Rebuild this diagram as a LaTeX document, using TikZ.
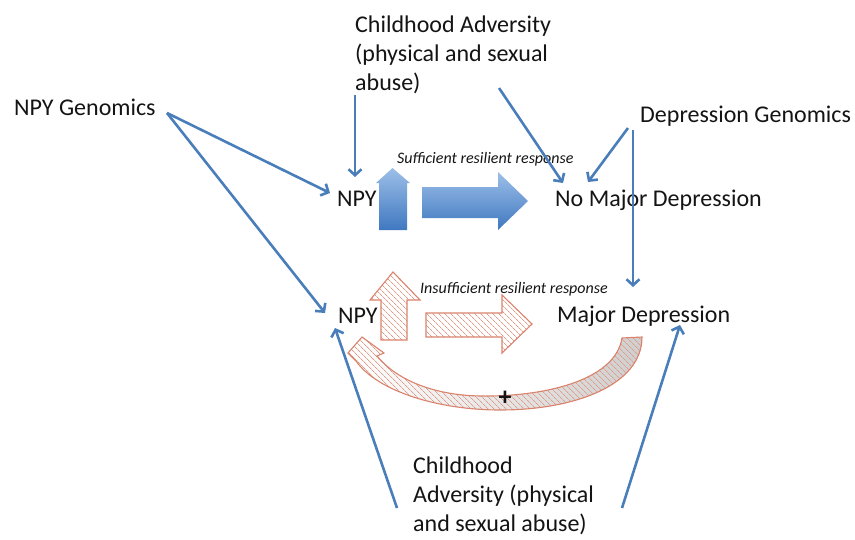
\documentclass[tikz,border=0pt]{standalone}
\usepackage{fontspec}
\setmainfont{Carlito}
\usetikzlibrary{arrows.meta,patterns.meta}
\definecolor{lblue}{HTML}{4A7EBB}
\definecolor{bluetop}{HTML}{9DBFE8}
\definecolor{bluebot}{HTML}{3F78C0}
\definecolor{pinkline}{HTML}{D9826C}
\definecolor{txt}{HTML}{141414}
\begin{document}
\begin{tikzpicture}[x=1pt,y=-1pt,
  big/.style={font=\fontsize{24}{29}\selectfont, inner sep=0pt, anchor=base west, text=txt, align=left},
  small/.style={font=\fontsize{16}{19}\selectfont\itshape, inner sep=0pt, anchor=base west, text=txt},
  conn/.style={draw=lblue, line width=2.6pt, -{Straight Barb[length=6pt,width=13pt]}},
  bluearrow/.style={top color=bluetop, bottom color=bluebot, draw=none},
  hatch/.style={pattern={Lines[angle=-45,distance=4pt,line width=0.7pt]}, pattern color=pinkline!80},
  pinkarrow/.style={hatch, draw=pinkline, line width=1.1pt}]
\useasboundingbox (0,0) rectangle (855,539);

% texts
\node[big] (npygen) at (14,115) {NPY Genomics};
\node[big] (catop) at (355,90) {Childhood Adversity\\(physical and sexual\\abuse)};
\node[big] (npy1) at (337,206) {NPY};
\node[big] (nomd) at (555,206) {No Major Depression};
\node[big] (depgen) at (640,122) {Depression Genomics};
\node[small] (suff) at (397,163) {Sufficient resilient response};
\node[big] (npy2) at (338,323) {NPY};
\node[big] (md) at (557,322) {Major Depression};
\node[small] (insuff) at (420,293) {Insufficient resilient response};
\node[big] (cabot) at (413,531) {Childhood\\Adversity (physical\\and sexual abuse)};

% blue block arrows
\path[bluearrow] (379,230) -- (407,230) -- (407,183) -- (410,183) -- (392.5,168) -- (376,183) -- (379,183) -- cycle;
\path[bluearrow] (422,187) -- (498,187) -- (498,172) -- (528,201) -- (498,230) -- (498,218) -- (422,218) -- cycle;

% pink hatched arrows
\draw[pinkarrow] (381,340) -- (407,340) -- (407,300) -- (420,300) -- (393,272) -- (370,300) -- (381,300) -- cycle;
\draw[pinkarrow] (426,313) -- (502,313) -- (502,295) -- (532,324) -- (502,353) -- (502,337) -- (426,337) -- cycle;

% curved feedback arrow
\path[left color=white, middle color=white, right color=gray!38,
      postaction={hatch}, postaction={draw=pinkline, line width=1.1pt}]
  (622,338) .. controls (615,382) and (540,397) .. (480,396)
  .. controls (430,395) and (395,378) .. (377,356)
  -- (384,353) -- (362,337) -- (348,353) -- (356,361)
  .. controls (378,392) and (440,410) .. (500,410)
  .. controls (575,410) and (642,385) .. (642,337) -- cycle;
\node[font=\fontsize{26}{26}\selectfont\bfseries, text=txt, inner sep=0pt] (plus) at (505,398) {+};

% connector end points
\coordinate (npygen-e) at (167,113);
\coordinate (npy1-in) at (330,193);
\coordinate (npy2-in) at (325,313);
\coordinate (catop-s) at (355,95);
\coordinate (npy1-top) at (355,177);
\coordinate (catop-se) at (499,88);
\coordinate (nomd-in1) at (563,183);
\coordinate (depgen-sw) at (628,128);
\coordinate (nomd-in2) at (588,182);
\coordinate (depgen-s) at (633,130);
\coordinate (md-top) at (633,287);
\coordinate (cabot-w) at (397,508);
\coordinate (npy2-bot) at (335,328);
\coordinate (cabot-e) at (622,508);
\coordinate (md-bot) at (680,325);

% connectors
\draw[conn] (npygen-e) -- (npy1-in);
\draw[conn] (npygen-e) -- (npy2-in);
\draw[conn] (catop-s) -- (npy1-top);
\draw[conn] (catop-se) -- (nomd-in1);
\draw[conn] (depgen-sw) -- (nomd-in2);
\draw[conn] (depgen-s) -- (md-top);
\draw[conn] (cabot-w) -- (npy2-bot);
\draw[conn] (cabot-e) -- (md-bot);
\end{tikzpicture}
\end{document}
